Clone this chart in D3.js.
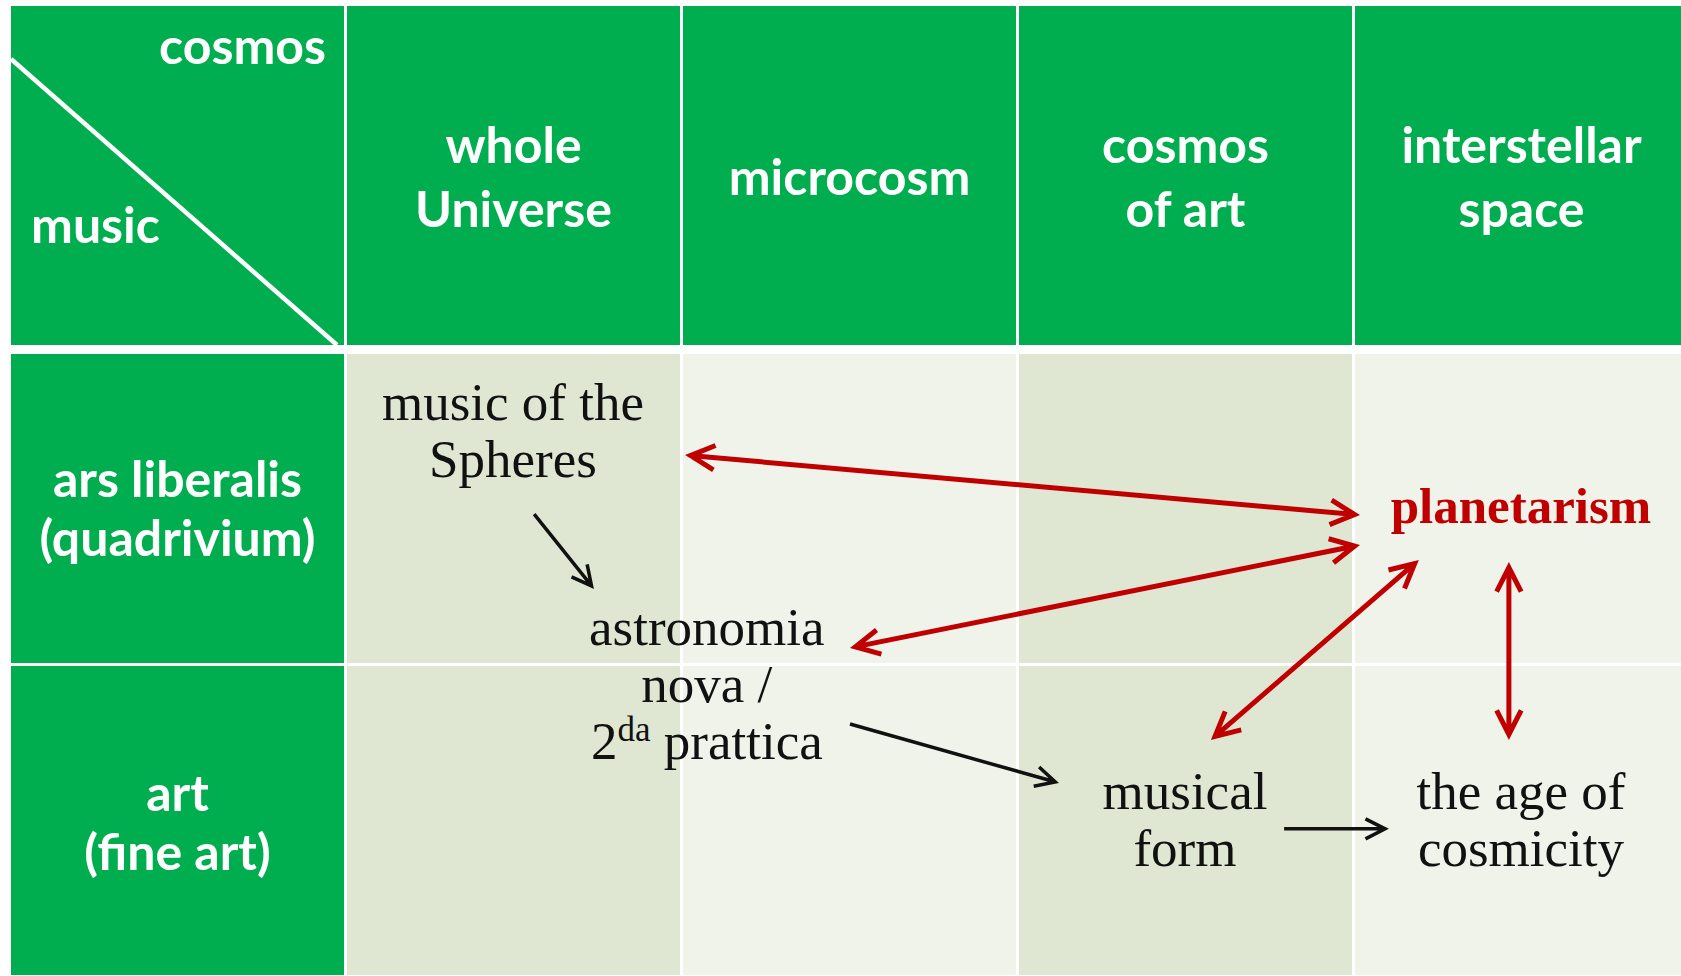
<!DOCTYPE html>
<html>
<head>
<meta charset="utf-8">
<script src="https://d3js.org/d3.v7.min.js"></script>
<style>
  body { margin: 0; background: #fff; }
  svg { display: block; }
  text.head { font-family: Lato, "Open Sans", sans-serif; font-weight: bold; fill: #fff; }
  text.cell { font-family: "Liberation Serif", serif; fill: #111; }
  text.cell.red { fill: #c00000; font-weight: bold; }
</style>
</head>
<body>
<script>
// header row (cosmos) and first column (music)
var colHeads = [["whole", "Universe"], ["microcosm"], ["cosmos", "of art"], ["interstellar", "space"]];
var rowHeads = [["ars liberalis", "(quadrivium)"], ["art", "(fine art)"]];
var cornerTop = "cosmos";
var cornerBottom = "music";
var colShade = ["dark", "light", "dark", "light"];

// text in the body, in grid units: u = columns from the left of "whole Universe", v = body rows from the top
// an array line is [base, superscript, rest]
var nodes = [
  {lines: ["music of the", "Spheres"], u: 0.494, v: 0.212},
  {lines: ["astronomia", "nova /", ["2", "da", " prattica"]], u: 1.071, v: 0.933},
  {lines: ["planetarism"], u: 3.494, v: 0.542, red: true},
  {lines: ["musical", "form"], u: 2.494, v: 1.458},
  {lines: ["the age of", "cosmicity"], u: 3.494, v: 1.458}
];

// arrows, same grid units; both = head at each end
var redLinks = [
  {u1: 1.006, v1: 0.324, u2: 3.015, v2: 0.516, both: true},
  {u1: 1.497, v1: 0.942, u2: 3.015, v2: 0.612, both: true},
  {u1: 2.571, v1: 1.237, u2: 3.190, v2: 0.660, both: true},
  {u1: 3.458, v1: 1.237, u2: 3.458, v2: 0.667, both: true}
];
var blackLinks = [
  {u1: 0.557, v1: 0.513, u2: 0.735, v2: 0.753},
  {u1: 1.497, v1: 1.186, u2: 2.119, v2: 1.375},
  {u1: 2.789, v1: 1.522, u2: 3.101, v2: 1.522}
];

var W = 1681, H = 976;
var GREEN = "#00ae50", RED = "#c00000";
var shadeColor = {dark: "#dfe7d3", light: "#eff3ea"};

var svg = d3.select("body").append("svg").attr("width", W).attr("height", H);

// columns: corner + 4 cosmos columns
var x = d3.scaleBand().domain(d3.range(5)).range([11, 1688]).paddingInner(3 / 336);
var headTop = 6, headBottom = 345;
var y = d3.scaleBand().domain(d3.range(2)).range([354, 975]).paddingInner(3 / 312);

// grid-unit scales for the body drawing
var gx = d3.scaleLinear().domain([0, 1]).range([x(1), x(2)]);
var gy = d3.scaleLinear().domain([0, 1]).range([y(0), y(1)]);

// header cells
svg.selectAll("rect.hc").data(d3.range(5)).enter().append("rect")
  .attr("x", function(d) { return x(d); })
  .attr("y", headTop)
  .attr("width", x.bandwidth())
  .attr("height", headBottom - headTop)
  .attr("fill", GREEN);

// row label cells
svg.selectAll("rect.rc").data(rowHeads).enter().append("rect")
  .attr("x", x(0))
  .attr("y", function(d, i) { return y(i); })
  .attr("width", x.bandwidth())
  .attr("height", y.bandwidth())
  .attr("fill", GREEN);

// body cells
var cells = [];
rowHeads.forEach(function(r, ri) {
  colShade.forEach(function(s, ci) { cells.push({r: ri, c: ci + 1, shade: s}); });
});
svg.selectAll("rect.bc").data(cells).enter().append("rect")
  .attr("x", function(d) { return x(d.c); })
  .attr("y", function(d) { return y(d.r); })
  .attr("width", x.bandwidth())
  .attr("height", y.bandwidth())
  .attr("fill", function(d) { return shadeColor[d.shade]; });

// corner diagonal
svg.append("line")
  .attr("x1", x(0)).attr("y1", headTop + 53)
  .attr("x2", x(0) + x.bandwidth() - 7).attr("y2", headBottom)
  .attr("stroke", "#fff").attr("stroke-width", 4.5);

var headSize = 50, headLead = 64;
svg.append("text").attr("class", "head")
  .attr("x", x(0) + x.bandwidth() - 18).attr("y", 64)
  .attr("text-anchor", "end").style("font-size", headSize + "px")
  .text(cornerTop);
svg.append("text").attr("class", "head")
  .attr("x", x(0) + 20).attr("y", 243)
  .style("font-size", headSize + "px")
  .text(cornerBottom);

// column headings, centred in the header band
var headMid = (headTop + headBottom) / 2;
colHeads.forEach(function(lines, i) {
  var t = svg.append("text").attr("class", "head")
    .attr("text-anchor", "middle").style("font-size", headSize + "px");
  lines.forEach(function(l, j) {
    t.append("tspan")
      .attr("x", x(i + 1) + x.bandwidth() / 2)
      .attr("y", headMid + 19.5 + (j - (lines.length - 1) / 2) * headLead)
      .text(l);
  });
});

// row headings
var rowLead = 59;
rowHeads.forEach(function(lines, i) {
  var t = svg.append("text").attr("class", "head")
    .attr("text-anchor", "middle").style("font-size", headSize + "px");
  lines.forEach(function(l, j) {
    t.append("tspan")
      .attr("x", x(0) + x.bandwidth() / 2)
      .attr("y", y(i) + 143 + i * 2 + j * rowLead)
      .text(l);
  });
});

// body text
var cellSize = 53, redSize = 51, cellLead = 57;
nodes.forEach(function(n) {
  var t = svg.append("text").attr("class", n.red ? "cell red" : "cell")
    .attr("text-anchor", "middle").style("font-size", (n.red ? redSize : cellSize) + "px");
  n.lines.forEach(function(l, j) {
    var ty = gy(n.v) + j * cellLead;
    if (typeof l === "string") {
      t.append("tspan").attr("x", gx(n.u)).attr("y", ty).text(l);
    } else {
      t.append("tspan").attr("x", gx(n.u)).attr("y", ty).text(l[0]);
      t.append("tspan").attr("dy", -18).style("font-size", "35px").text(l[1]);
      t.append("tspan").attr("dy", 18).text(l[2]);
    }
  });
});

// arrows with open chevron heads
function chevron(p, x0, y0, x1, y1, len, ang, sw) {
  var a = Math.atan2(y1 - y0, x1 - x0);
  var inset = sw / (2 * Math.sin(ang));
  var tx = x1 - inset * Math.cos(a), ty = y1 - inset * Math.sin(a);
  p.moveTo(tx - len * Math.cos(a - ang), ty - len * Math.sin(a - ang));
  p.lineTo(tx, ty);
  p.lineTo(tx - len * Math.cos(a + ang), ty - len * Math.sin(a + ang));
}

function drawLinks(data, color, sw, len) {
  var ang = 27 * Math.PI / 180;
  svg.selectAll(null).data(data).enter().append("path")
    .attr("d", function(d) {
      var x1 = gx(d.u1), y1 = gy(d.v1), x2 = gx(d.u2), y2 = gy(d.v2);
      var p = d3.path();
      var a = Math.atan2(y2 - y1, x2 - x1), k = sw;
      p.moveTo(d.both ? x1 + k * Math.cos(a) : x1, d.both ? y1 + k * Math.sin(a) : y1);
      p.lineTo(x2 - k * Math.cos(a), y2 - k * Math.sin(a));
      chevron(p, x1, y1, x2, y2, len, ang, sw);
      if (d.both) chevron(p, x2, y2, x1, y1, len, ang, sw);
      return p.toString();
    })
    .attr("fill", "none")
    .attr("stroke", color)
    .attr("stroke-width", sw)
    .attr("stroke-linejoin", "miter")
    .attr("stroke-miterlimit", 10);
}
drawLinks(redLinks, RED, 5, 27);
drawLinks(blackLinks, "#111", 3.5, 22);
</script>
</body>
</html>
